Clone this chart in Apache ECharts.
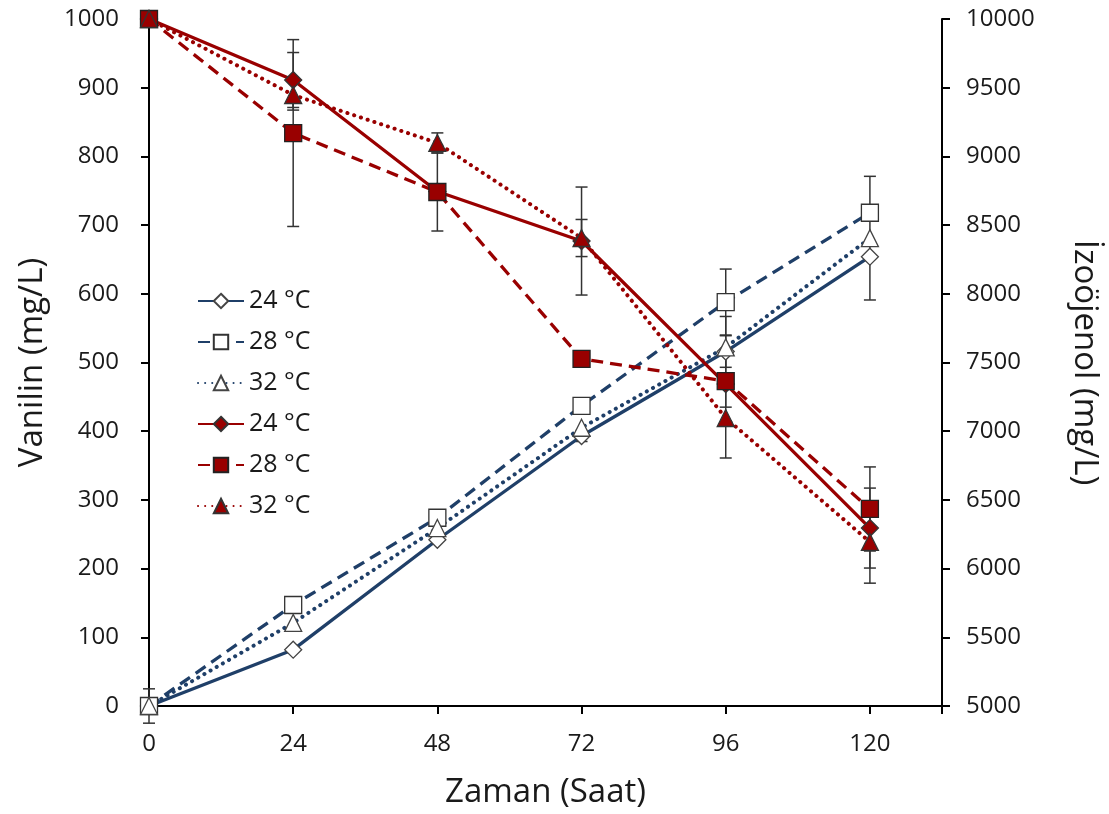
<!DOCTYPE html>
<html><head><meta charset="utf-8">
<script src="https://cdn.jsdelivr.net/npm/echarts@6/dist/echarts.min.js"></script>
<style>html,body{margin:0;padding:0;background:#fff}#c{width:1109px;height:814px}</style>
</head><body><div id="c"></div>
<script>
const hours = [0, 24, 48, 72, 96, 120];
const xTicks = [0, 24, 48, 72, 96, 120];
const legendNames = ['24 °C', '28 °C', '32 °C'];
// Vanilin (mg/L), left axis
const van24 = [0, 82, 242, 393, 516, 654];
const van28 = [0, 147, 274, 437, 588, 718];
const van32 = [0, 121, 259, 405, 522, 681];
const van24Err = [25, 0, 0, 8, 23, 0];
const van28Err = [0, 0, 0, 10, 48, 0];
const van32Err = [0, 0, 0, 0, 45, 90];
// İzoöjenol (mg/L), right axis
const iso24 = [10000, 9556, 8745, 8384, 7343, 6295];
const iso28 = [10000, 9170, 8741, 7526, 7365, 6434];
const iso32 = [10000, 9447, 9098, 8406, 7096, 6194];
const iso24Err = [0, 200, 0, 393, 0, 291];
const iso28Err = [0, 680, 284, 50, 190, 306];
const iso32Err = [0, 110, 73, 135, 291, 300];

const BLUE = '#1F3F68', RED = '#990000';
const FONT = 'Open Sans';
const TXT = '#1a1a1a';

function errData(vals, errs) {
  return hours.map((h, i) => [h, vals[i] - errs[i], vals[i] + errs[i], errs[i]]);
}
function renderErr(params, api) {
  if (api.value(3) <= 0) return null;
  const x = api.value(0);
  const p1 = api.coord([x, api.value(2)]);
  const p2 = api.coord([x, api.value(1)]);
  const w = 6;
  const st = { stroke: '#333', lineWidth: 1.5 };
  return { type: 'group', children: [
    { type: 'line', shape: { x1: p1[0], y1: p1[1], x2: p2[0], y2: p2[1] }, style: st },
    { type: 'line', shape: { x1: p1[0] - w, y1: p1[1], x2: p1[0] + w, y2: p1[1] }, style: st },
    { type: 'line', shape: { x1: p2[0] - w, y1: p2[1], x2: p2[0] + w, y2: p2[1] }, style: st }
  ]};
}
function errSeries(vals, errs, yi) {
  return { type: 'custom', yAxisIndex: yi, renderItem: renderErr, data: errData(vals, errs), z: 1, silent: true, clip: false };
}
function lineSeries(name, vals, yi, color, dash, cap, width, symbol, size, fill, border) {
  return {
    name: name, type: 'line', yAxisIndex: yi, data: hours.map((h, i) => [h, vals[i]]),
    symbol: symbol, symbolSize: size, showAllSymbol: true, clip: false, z: 3,
    lineStyle: { color: color, width: width, type: dash, cap: cap },
    itemStyle: { color: fill, borderColor: border, borderWidth: 1.3 },
    emphasis: { disabled: true }
  };
}

const chart = echarts.init(document.getElementById('c'), null, { renderer: 'canvas' });
chart.setOption({
  animation: false,
  backgroundColor: '#fff',
  grid: { left: 149, right: 167, top: 19, bottom: 108 },
  legend: {
    orient: 'vertical', left: 192, top: 283, itemGap: 15, itemWidth: 46, itemHeight: 18,
    textStyle: { fontFamily: FONT, fontSize: 25, lineHeight: 26, color: TXT },
    data: ['v24', 'v28', 'v32', 'i24', 'i28', 'i32'],
    formatter: n => n.endsWith('24') ? legendNames[0] : (n.endsWith('28') ? legendNames[1] : legendNames[2])
  },
  xAxis: {
    type: 'value', min: 0, max: 132, interval: 24,
    name: 'Zaman (Saat)', nameLocation: 'middle', nameGap: 70,
    nameTextStyle: { fontFamily: FONT, fontSize: 33, color: TXT },
    axisLine: { lineStyle: { color: '#000', width: 2 } },
    axisTick: { length: 8, lineStyle: { color: '#000', width: 2 } },
    axisLabel: { fontFamily: FONT, fontSize: 24, color: TXT, margin: 26,
      formatter: v => xTicks.indexOf(v) >= 0 ? String(v) : '' },
    splitLine: { show: false }
  },
  yAxis: [{
    type: 'value', min: 0, max: 1000, interval: 100,
    name: 'Vanilin (mg/L)', nameLocation: 'middle', nameGap: 100, nameRotate: 90,
    nameTextStyle: { fontFamily: FONT, fontSize: 33, color: TXT },
    axisLine: { show: true, lineStyle: { color: '#000', width: 2 } },
    axisTick: { show: true, length: 8, lineStyle: { color: '#000', width: 2 } },
    axisLabel: { fontFamily: FONT, fontSize: 24, color: TXT, margin: 30, formatter: v => String(v) },
    splitLine: { show: false }
  }, {
    type: 'value', min: 5000, max: 10000, interval: 500, position: 'right',
    name: 'İzoöjenol (mg/L)', nameLocation: 'middle', nameGap: 126, nameRotate: -90,
    nameTextStyle: { fontFamily: FONT, fontSize: 33, color: TXT },
    axisLine: { show: true, lineStyle: { color: '#000', width: 2 } },
    axisTick: { show: true, length: 8, lineStyle: { color: '#000', width: 2 } },
    axisLabel: { fontFamily: FONT, fontSize: 24, color: TXT, margin: 24, formatter: v => String(v) },
    splitLine: { show: false }
  }],
  series: [
    errSeries(van24, van24Err, 0), errSeries(van28, van28Err, 0), errSeries(van32, van32Err, 0),
    errSeries(iso24, iso24Err, 1), errSeries(iso28, iso28Err, 1), errSeries(iso32, iso32Err, 1),
    lineSeries('v24', van24, 0, BLUE, 'solid', 'butt', 3.3, 'diamond', 17, '#fff', '#444'),
    lineSeries('v28', van28, 0, BLUE, [12, 7], 'butt', 3.3, 'rect', 17, '#fff', '#333'),
    lineSeries('v32', van32, 0, BLUE, [0.1, 7], 'round', 4, 'triangle', 17, '#fff', '#444'),
    lineSeries('i24', iso24, 1, RED, 'solid', 'butt', 3.3, 'diamond', 17, RED, '#333'),
    lineSeries('i28', iso28, 1, RED, [12, 7], 'butt', 3.3, 'rect', 17, RED, '#222'),
    lineSeries('i32', iso32, 1, RED, [0.1, 7], 'round', 4, 'triangle', 17, RED, '#333')
  ]
});
</script>
</body></html>
